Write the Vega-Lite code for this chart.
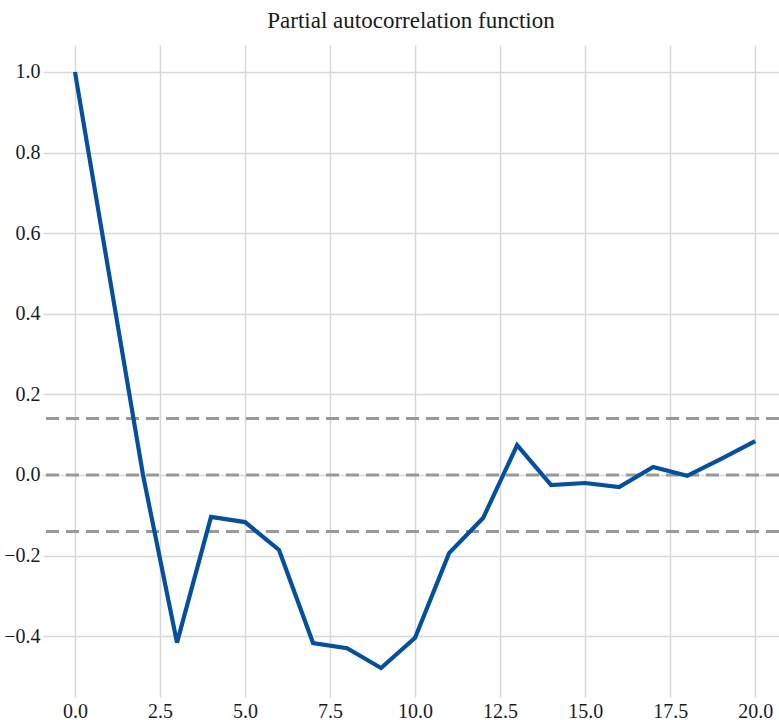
{
  "$schema": "https://vega.github.io/schema/vega-lite/v6.json",
  "width": 736,
  "height": 652,
  "autosize": {"type": "none"},
  "padding": {"left": 43, "top": 45, "right": 0, "bottom": 23},
  "background": "white",
  "title": {
    "text": "Partial autocorrelation function",
    "font": "'Liberation Serif', 'Times New Roman', 'DejaVu Serif', serif",
    "fontSize": 23,
    "fontWeight": "normal",
    "color": "#1a1a1a",
    "anchor": "middle",
    "offset": 12
  },
  "config": {
    "view": {"stroke": null},
    "axis": {
      "domain": false,
      "ticks": false,
      "grid": true,
      "gridColor": "#d8d8d8",
      "gridWidth": 1.5,
      "labelFont": "'Liberation Serif', 'Times New Roman', 'DejaVu Serif', serif",
      "labelFontSize": 20,
      "labelColor": "#1a1a1a",
      "title": null
    }
  },
  "layer": [
    {
      "data": {"values": [{"c": 0.14}, {"c": 0}, {"c": -0.14}]},
      "mark": {"type": "rule", "color": "#999999", "strokeWidth": 3, "strokeDash": [13, 7]},
      "encoding": {
        "y": {"field": "c", "type": "quantitative"}
      }
    },
    {
      "data": {"values": [
        {"lag": 0, "pacf": 1.0},
        {"lag": 1, "pacf": 0.5},
        {"lag": 2, "pacf": 0.0},
        {"lag": 3, "pacf": -0.416},
        {"lag": 4, "pacf": -0.104},
        {"lag": 5, "pacf": -0.117},
        {"lag": 6, "pacf": -0.186},
        {"lag": 7, "pacf": -0.417},
        {"lag": 8, "pacf": -0.43},
        {"lag": 9, "pacf": -0.479},
        {"lag": 10, "pacf": -0.404},
        {"lag": 11, "pacf": -0.194},
        {"lag": 12, "pacf": -0.107},
        {"lag": 13, "pacf": 0.074},
        {"lag": 14, "pacf": -0.025},
        {"lag": 15, "pacf": -0.02},
        {"lag": 16, "pacf": -0.03},
        {"lag": 17, "pacf": 0.02},
        {"lag": 18, "pacf": -0.002},
        {"lag": 19, "pacf": 0.04},
        {"lag": 20, "pacf": 0.084}
      ]},
      "mark": {"type": "line", "color": "#044f9e", "strokeWidth": 4.2, "strokeJoin": "miter"},
      "encoding": {
        "x": {
          "field": "lag",
          "type": "quantitative",
          "scale": {"domain": [-0.94, 20.7], "nice": false, "zero": false},
          "axis": {"values": [0, 2.5, 5, 7.5, 10, 12.5, 15, 17.5, 20], "format": ".1f", "labelPadding": 4, "title": null}
        },
        "y": {
          "field": "pacf",
          "type": "quantitative",
          "scale": {"domain": [-0.551, 1.067], "nice": false, "zero": false},
          "axis": {"values": [-0.4, -0.2, 0, 0.2, 0.4, 0.6, 0.8, 1.0], "format": ".1f", "labelPadding": 3, "title": null}
        }
      }
    }
  ]
}
